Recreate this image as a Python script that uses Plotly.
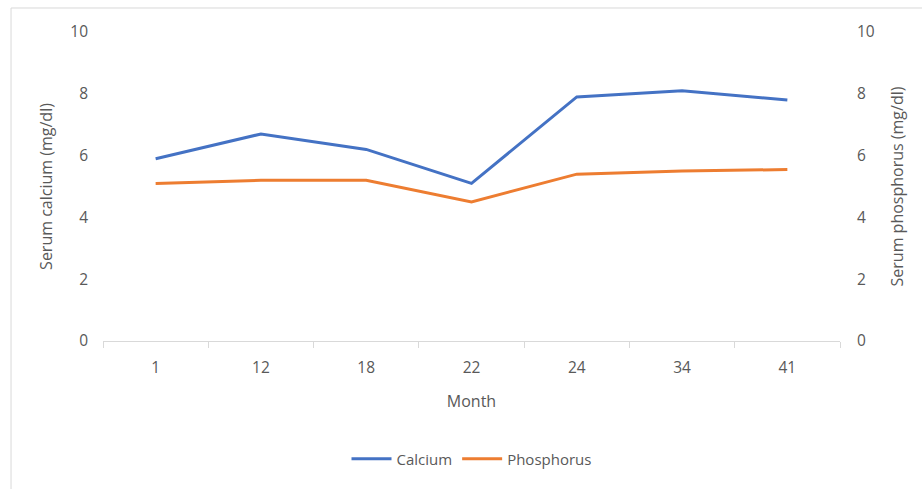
import plotly.graph_objects as go

# Serum levels over follow-up months
months = ["1", "12", "18", "22", "24", "34", "41"]
calcium = [5.9, 6.7, 6.2, 5.1, 7.9, 8.1, 7.8]
phosphorus = [5.1, 5.2, 5.2, 4.5, 5.4, 5.5, 5.55]
y_ticks = [0, 2, 4, 6, 8, 10]

FONT = "Open Sans"
GREY = "#595959"
LIGHT = "#d9d9d9"

fig = go.Figure()
fig.add_trace(go.Scatter(
    x=months, y=calcium, name="Calcium", mode="lines",
    line=dict(color="#4472C4", width=3), yaxis="y"))
fig.add_trace(go.Scatter(
    x=months, y=phosphorus, name="Phosphorus", mode="lines",
    line=dict(color="#ED7D31", width=3), yaxis="y2"))

fig.update_layout(
    width=922, height=489,
    margin=dict(l=103, r=82, t=32, b=148),
    paper_bgcolor="white", plot_bgcolor="white",
    font=dict(family=FONT, size=15, color=GREY),
    showlegend=True,
    legend=dict(orientation="h", x=0.5, xanchor="center", y=-0.382,
                yanchor="middle", font=dict(size=15, color=GREY),
                itemwidth=40, tracegroupgap=0),
    xaxis=dict(
        type="category", range=[-0.5, len(months) - 0.5],
        showgrid=False, showline=True, linecolor=LIGHT,
        linewidth=1, ticks="outside", tickson="boundaries", ticklen=6,
        tickcolor=LIGHT, tickfont=dict(size=15.5, color=GREY),
        ticklabelstandoff=12,
        title=dict(text="Month", font=dict(size=16, color=GREY), standoff=19),
        zeroline=False,
    ),
    yaxis=dict(
        range=[0, 10], tickvals=y_ticks, showgrid=False, showline=False,
        zeroline=False, ticks="", ticklabelstandoff=14,
        tickfont=dict(size=15.5, color=GREY),
        title=dict(text="Serum calcium (mg/dl)", font=dict(size=16, color=GREY),
                   standoff=13),
    ),
    yaxis2=dict(
        range=[0, 10], tickvals=y_ticks, overlaying="y", side="right",
        showgrid=False, showline=False, zeroline=False, ticks="",
        ticklabelstandoff=16, tickfont=dict(size=15.5, color=GREY),
        title=dict(text="Serum phosphorus (mg/dl)",
                   font=dict(size=16, color=GREY), standoff=17),
    ),
    shapes=[dict(type="rect", xref="paper", yref="paper",
                 x0=-0.1248, x1=1.2, y0=-0.6, y1=1.0777,
                 line=dict(color=LIGHT, width=1), fillcolor="rgba(0,0,0,0)",
                 layer="below")],
)

fig.write_html("out.html")
